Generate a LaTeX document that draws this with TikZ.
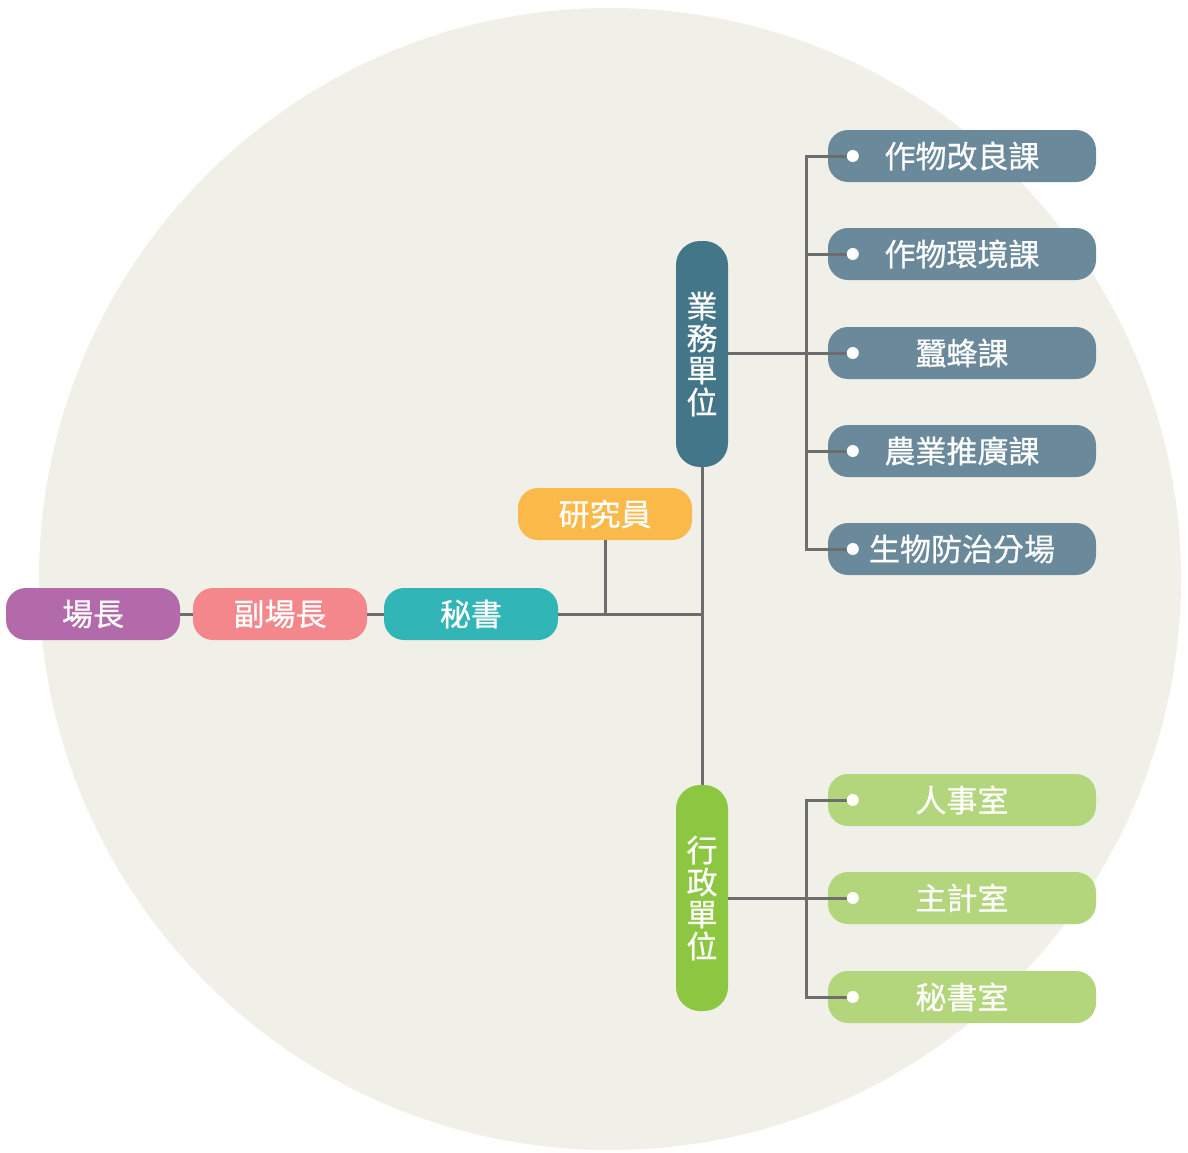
\documentclass[tikz,border=0pt]{standalone}
\usepackage{fontspec}
\setmainfont{Noto Sans CJK TC}[FakeBold=0.6]
\usepackage{tikz, xcolor}
\usetikzlibrary{shapes,arrows,calc}

\definecolor{bgcircle}{HTML}{F0EFE8}
\definecolor{cz}{HTML}{B26AAA}
\definecolor{cfz}{HTML}{F3878B}
\definecolor{cms}{HTML}{31B5B7}
\definecolor{cyj}{HTML}{FBB94A}
\definecolor{cyw}{HTML}{437689}
\definecolor{cywsub}{HTML}{6A8A9C}
\definecolor{cxz}{HTML}{8DC641}
\definecolor{cxzsub}{HTML}{B3D67C}
\definecolor{cline}{HTML}{6D6D6D}

\begin{document}
\begin{tikzpicture}[x=1pt, y=-1pt]
\tikzstyle{vertexr}=[rectangle, rounded corners=20pt, minimum width=174pt, minimum height=52pt, inner sep=0pt, text=white, font=\fontsize{31}{32}\selectfont]
\tikzstyle{vertexv}=[rectangle, rounded corners=24pt, minimum width=52pt, minimum height=226pt, inner sep=0pt, text=white, align=center, font=\fontsize{31}{32}\selectfont]
\tikzstyle{vertexs}=[rectangle, rounded corners=20pt, minimum width=268pt, minimum height=52pt, inner sep=0pt, text=white, font=\fontsize{31}{32}\selectfont]
\tikzstyle{dot}=[circle, fill=white, minimum size=12pt, inner sep=0pt]
\tikzstyle{drawstyle}=[cline, line width=3pt]

\useasboundingbox (0,0) rectangle (1188,1152);
\fill[bgcircle] (610,579) circle (571);

\node[vertexr, fill=cz] (G0) at (93,614) {場長};
\node[vertexr, fill=cfz] (G1) at (280,614) {副場長};
\node[vertexr, fill=cms] (G2) at (471,614) {秘書};
\node[vertexr, fill=cyj] (G3) at (605,514) {研究員};
\node[vertexv, fill=cyw] (Y0) at (702,354) {業\\務\\單\\位};
\node[vertexv, fill=cxz] (X0) at (702,898) {行\\政\\單\\位};

\node[vertexs, fill=cywsub] (Y1) at (962,156) {作物改良課};
\node[vertexs, fill=cywsub] (Y2) at (962,254) {作物環境課};
\node[vertexs, fill=cywsub] (Y3) at (962,353) {蠶蜂課};
\node[vertexs, fill=cywsub] (Y4) at (962,451) {農業推廣課};
\node[vertexs, fill=cywsub] (Y5) at (962,549) {生物防治分場};
\node[vertexs, fill=cxzsub] (X1) at (962,800) {人事室};
\node[vertexs, fill=cxzsub] (X2) at (962,898) {主計室};
\node[vertexs, fill=cxzsub] (X3) at (962,997) {秘書室};

\coordinate (JY) at (806,353);
\coordinate (JX) at (806,898);
\foreach \i in {1,...,5} \coordinate (DY\i) at ($(Y\i.west)+(25,0)$);
\foreach \i in {1,...,3} \coordinate (DX\i) at ($(X\i.west)+(25,0)$);

\draw[drawstyle] (G0) -- (G1);
\draw[drawstyle] (G1) -- (G2);
\draw[drawstyle] (G2.east) -- (G2.east -| Y0.south);
\draw[drawstyle] (G3.south) -- (G3.south |- G2.east);
\draw[drawstyle] (Y0.south) -- (X0.north);
\draw[drawstyle] (Y0.east |- JY) -- (JY);
\draw[drawstyle] (X0.east |- JX) -- (JX);
\foreach \i in {1,...,5} \draw[drawstyle] (JY) |- (DY\i);
\foreach \i in {1,...,3} \draw[drawstyle] (JX) |- (DX\i);

\foreach \i in {1,...,5} \node[dot] (BY\i) at (DY\i) {};
\foreach \i in {1,...,3} \node[dot] (BX\i) at (DX\i) {};
\end{tikzpicture}
\end{document}
